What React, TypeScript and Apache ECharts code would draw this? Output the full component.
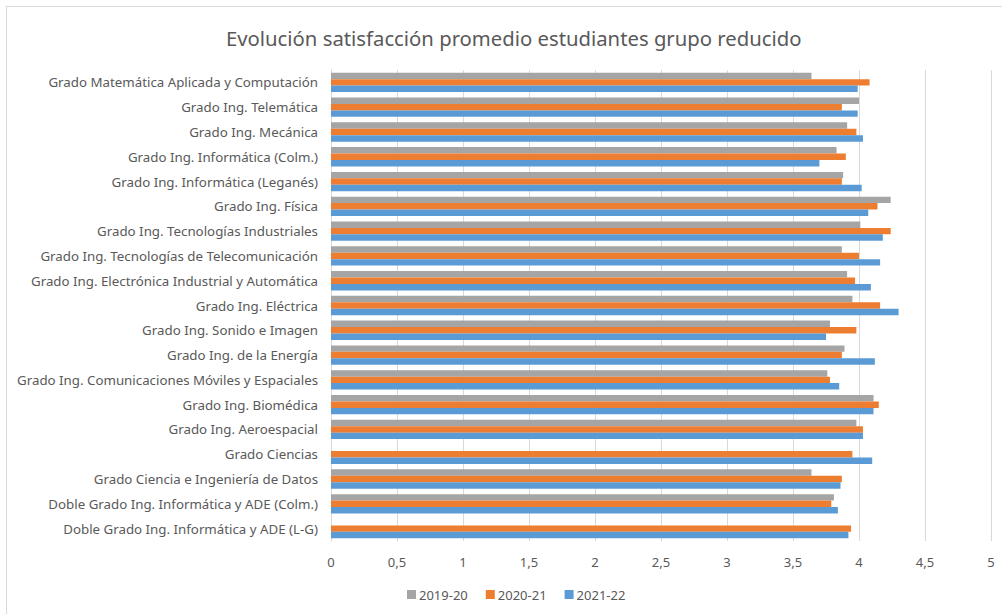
import React, { useEffect, useRef } from "react";
import * as echarts from "echarts";

const categories = [
  "Grado Matemática Aplicada y Computación",
  "Grado Ing. Telemática",
  "Grado Ing. Mecánica",
  "Grado Ing. Informática (Colm.)",
  "Grado Ing. Informática (Leganés)",
  "Grado Ing. Física",
  "Grado Ing. Tecnologías Industriales",
  "Grado Ing. Tecnologías de Telecomunicación",
  "Grado Ing. Electrónica Industrial y Automática",
  "Grado Ing. Eléctrica",
  "Grado Ing. Sonido e Imagen",
  "Grado Ing. de la Energía",
  "Grado Ing. Comunicaciones Móviles y Espaciales",
  "Grado Ing. Biomédica",
  "Grado Ing. Aeroespacial",
  "Grado Ciencias",
  "Grado Ciencia e Ingeniería de Datos",
  "Doble Grado Ing. Informática y ADE (Colm.)",
  "Doble Grado Ing. Informática y ADE (L-G)",
];

const s2019 = [3.64, 4.0, 3.91, 3.83, 3.88, 4.24, 4.01, 3.87, 3.91, 3.95, 3.78, 3.89, 3.76, 4.11, 3.98, null, 3.64, 3.81, null];
const s2020 = [4.08, 3.87, 3.98, 3.9, 3.87, 4.14, 4.24, 4.0, 3.97, 4.16, 3.98, 3.87, 3.78, 4.15, 4.03, 3.95, 3.87, 3.79, 3.94];
const s2021 = [3.99, 3.99, 4.03, 3.7, 4.02, 4.07, 4.18, 4.16, 4.09, 4.3, 3.75, 4.12, 3.85, 4.11, 4.03, 4.1, 3.86, 3.84, 3.92];

const seriesNames = ["2019-20", "2020-21", "2021-22"];
const colors = ["#A5A5A5", "#ED7D31", "#5B9BD5"];

export default function App() {
  const ref = useRef<HTMLDivElement>(null);
  useEffect(() => {
    document.body.style.margin = "0";
    const chart = echarts.init(ref.current!, null, { renderer: "svg" });
    const font = "Noto Sans";
    chart.setOption({
      animation: false,
      color: colors,
      textStyle: { fontFamily: font },
      title: {
        text: "Evolución satisfacción promedio estudiantes grupo reducido",
        left: 221,
        top: 23,
        textStyle: { fontFamily: font, fontSize: 20.3, fontWeight: "normal", color: "#595959" },
      },
      legend: {
        bottom: 8,
        left: 402,
        itemWidth: 9,
        itemHeight: 9,
        itemGap: 18,
        icon: "rect",
        textStyle: { fontFamily: font, fontSize: 13, color: "#595959", padding: [0, 0, 0, -2] },
        data: seriesNames,
      },
      grid: { left: 331, right: 11, top: 70, bottom: 73, containLabel: false },
      xAxis: {
        type: "value",
        min: 0,
        max: 5,
        interval: 0.5,
        axisLine: { show: false },
        axisTick: { show: false },
        splitLine: { lineStyle: { color: "#D9D9D9", width: 1 } },
        axisLabel: {
          margin: 14,
          fontFamily: font,
          fontSize: 13,
          color: "#595959",
          formatter: (v: number) => String(v).replace(".", ","),
        },
      },
      yAxis: {
        type: "category",
        inverse: true,
        data: categories,
        axisLine: { show: true, lineStyle: { color: "#D9D9D9" } },
        axisTick: { show: false },
        axisLabel: { margin: 13, fontFamily: font, fontSize: 13.3, color: "#595959" },
      },
      series: [s2019, s2020, s2021].map((d, i) => ({
        name: seriesNames[i],
        type: "bar",
        data: d,
        barGap: "0%",
        barCategoryGap: "22%",
      })),
    });
    return () => chart.dispose();
  }, []);
  return (
    <div style={{ position: "relative", width: 1002, height: 614, overflow: "hidden", background: "#fff" }}>
      <div
        style={{
          position: "absolute",
          left: 6,
          top: 6,
          width: 1010,
          height: 620,
          border: "1px solid #D9D9D9",
          boxSizing: "border-box",
        }}
      />
      <div ref={ref} style={{ position: "absolute", left: 0, top: 0, width: 1002, height: 614 }} />
    </div>
  );
}
